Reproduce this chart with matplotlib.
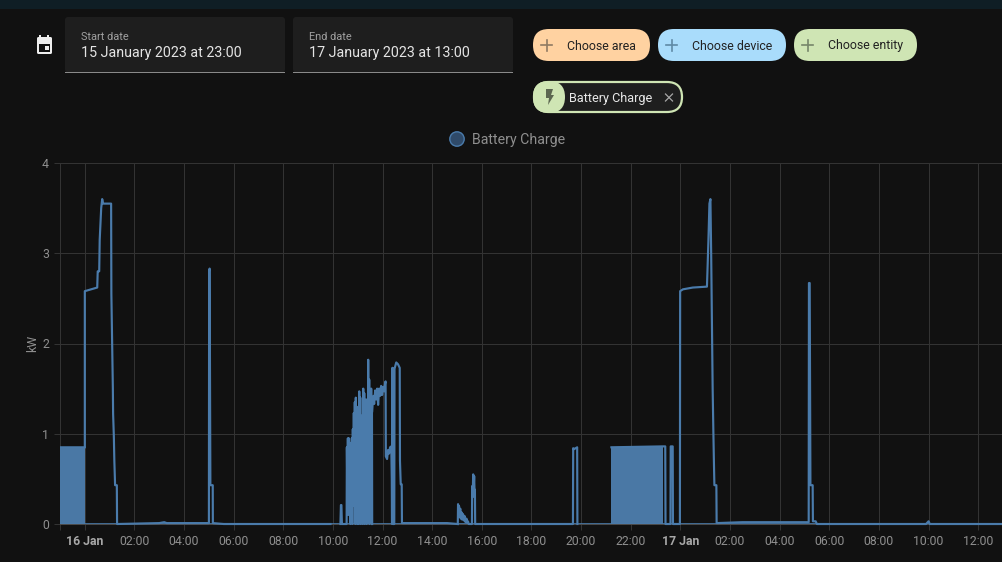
import matplotlib
matplotlib.use("Agg")
import matplotlib.pyplot as plt
from matplotlib.patches import FancyBboxPatch, Rectangle, Circle, Polygon

plt.rcParams['font.family'] = ['Roboto', 'DejaVu Sans']

# hours since 16 Jan 00:00, values in kW
night1_t = [0.0, 0.0, 0.5, 0.52, 0.58, 0.6, 0.66, 0.7, 0.74, 1.06, 1.07, 1.1, 1.13, 1.14, 1.17, 1.19, 1.22, 1.29, 1.3,
            3.0, 3.2, 3.3, 5.0, 5.01, 5.03, 5.05, 5.06, 5.155, 5.16, 5.6, 9.9]
night1_v = [0.85, 2.58, 2.62, 2.8, 2.8, 3.15, 3.5, 3.6, 3.55, 3.55, 2.55, 2.03, 1.5, 1.22, 0.97, 0.7, 0.43, 0.43, 0.0,
            0.01, 0.02, 0.01, 0.01, 2.8, 2.83, 1.2, 0.43, 0.43, 0.01, 0.0, 0.0]

cluster_t = [10.3, 10.32, 10.34, 10.36, 10.38, 10.55, 10.56, 10.58, 10.6, 10.62, 10.64, 10.66, 10.68, 10.7, 10.72,
             10.74, 10.76, 10.78, 10.8, 10.82, 10.84, 10.86, 10.88, 10.9, 10.92, 10.94, 10.96, 10.98, 11.0,
             11.02, 11.04, 11.06, 11.08, 11.1, 11.12, 11.14, 11.16, 11.18, 11.2, 11.22, 11.24, 11.26, 11.28, 11.3,
             11.32, 11.34, 11.36, 11.38, 11.4, 11.42, 11.44, 11.46, 11.47, 11.5, 11.52, 11.54, 11.56, 11.57, 11.58]
cluster_v = [0.0, 0.21, 0.21, 0.0, 0.0, 0.0, 0.85, 0.3, 0.95, 0.1, 0.95, 0.5, 0.9, 0.0, 0.85,
             0.3, 0.95, 0.0, 1.05, 0.4, 1.23, 0.2, 1.35, 0.0, 1.4, 0.2, 1.1, 0.0, 0.9,
             1.3, 0.0, 1.47, 0.3, 1.4, 0.0, 1.2, 0.2, 1.1, 0.0, 1.5, 0.4, 1.45, 0.0, 1.1,
             0.2, 1.38, 0.0, 1.3, 0.3, 1.82, 0.4, 1.6, 0.0, 1.45, 0.1, 1.5, 0.0, 1.4, 0.0]

band_t = [11.58, 11.62, 11.66, 11.7, 11.74, 11.78, 11.82, 11.86, 11.9, 11.94, 11.98, 12.02, 12.06, 12.1, 12.12, 12.13,
          12.18, 12.22, 12.26, 12.3, 12.35, 12.37, 12.38, 12.39, 12.41, 12.42, 12.47, 12.48, 12.55, 12.62, 12.69, 12.7,
          12.73, 12.77, 12.78, 13.5, 14.0, 14.6, 15.03]
band_v = [1.25, 1.42, 1.33, 1.48, 1.38, 1.5, 1.32, 1.5, 1.42, 1.53, 1.43, 1.52, 1.47, 1.56, 1.58, 0.75,
          0.72, 0.82, 0.78, 0.85, 0.86, 0.5, 0.0, 1.73, 1.73, 0.0, 0.0, 1.72, 1.79, 1.77, 1.73, 0.7,
          0.44, 0.44, 0.01, 0.01, 0.01, 0.01, 0.0]

small_t = [15.03, 15.04, 15.06, 15.08, 15.1, 15.13, 15.15, 15.18, 15.2, 15.24, 15.27, 15.3, 15.34, 15.38, 15.41, 15.44,
           15.47, 15.6, 15.61, 15.63, 15.65, 15.67, 15.69, 15.71, 15.72, 15.73, 19.67, 19.68, 19.72, 19.84, 19.85]
small_v = [0.0, 0.22, 0.1, 0.2, 0.08, 0.17, 0.06, 0.13, 0.05, 0.11, 0.04, 0.09, 0.02, 0.06, 0.01, 0.03,
           0.0, 0.0, 0.42, 0.3, 0.55, 0.4, 0.53, 0.3, 0.38, 0.0, 0.0, 0.84, 0.83, 0.85, 0.0]

night2_t = [21.22, 23.29, 23.39, 23.4, 23.6, 23.61, 23.69, 23.7, 23.98, 23.99, 24.1, 24.5, 25.07, 25.09, 25.13, 25.17,
            25.21, 25.24, 25.28, 25.3, 25.33, 25.35, 25.37, 25.45, 25.46, 26.5, 28.0, 29.17, 29.18, 29.21, 29.24,
            29.33, 29.34, 29.45, 29.5, 33.9, 34.0, 34.05, 37.0]
night2_v = [0.85, 0.86, 0.86, 0.0, 0.0, 0.86, 0.86, 0.0, 0.0, 2.58, 2.6, 2.62, 2.63, 2.8, 3.15, 3.55,
            3.6, 3.0, 2.0, 1.5, 1.0, 0.7, 0.43, 0.43, 0.01, 0.02, 0.02, 0.02, 2.67, 2.67, 0.43,
            0.43, 0.03, 0.03, 0.0, 0.0, 0.03, 0.0, 0.0]

# stretches where the line is so dense it reads as a solid block
block_start = [-1.0, 21.22]
block_end = [0.0, 23.29]
block_value = [0.85, 0.85]

hour_ticks = list(range(0, 37, 2))
hour_labels = ['16 Jan', '02:00', '04:00', '06:00', '08:00', '10:00', '12:00', '14:00', '16:00', '18:00', '20:00',
               '22:00', '17 Jan', '02:00', '04:00', '06:00', '08:00', '10:00', '12:00']
kw_ticks = [0, 1, 2, 3, 4]

BG = '#111111'
LINE = '#4a7bab'
FILL = '#4a78a5'
GRID = '#333333'
MUTED = '#8f8f8f'

W, H = 1003, 562
fig = plt.figure(figsize=(W / 100, H / 100), dpi=100, facecolor=BG)

# chart
ax = fig.add_axes([60 / W, 1 - 524 / H, 943 / W, 361 / H], facecolor=BG)
ax.set_xlim(-1, 37)
ax.set_ylim(0, 4)
ax.set_xticks([-1] + hour_ticks)
ax.set_xticklabels([''] + hour_labels)
ax.set_yticks(kw_ticks)
ax.grid(True, color=GRID, linewidth=0.72)
ax.set_axisbelow(True)
for name, sp in ax.spines.items():
    sp.set_visible(name == 'bottom')
    sp.set_color('#4a4a4a')
    sp.set_linewidth(0.72)
ax.tick_params(axis='both', length=4, width=0.72, color=GRID, labelcolor=MUTED, labelsize=8.8, pad=4)
for lab in ax.get_xticklabels():
    if 'Jan' in lab.get_text():
        lab.set_fontweight('bold')
        lab.set_color('#a8a8a8')
ax.set_ylabel('kW', color=MUTED, fontsize=8.8, labelpad=2)

for s, e, v in zip(block_start, block_end, block_value):
    ax.fill_between([s, e], [v, v], 0, color=FILL, linewidth=0, zorder=2)
ax.plot(block_start[:1] + block_end[:1], block_value[:1] * 2, color=LINE, lw=1.1, zorder=3)
for xs, ys in [(night1_t, night1_v), (cluster_t, cluster_v), (band_t, band_v), (small_t, small_v), (night2_t, night2_v)]:
    ax.plot(xs, ys, color=LINE, lw=1.55, solid_joinstyle='round', zorder=3, clip_on=False)
ax.plot([-1, 37], [0, 0], color=LINE, lw=1.2, zorder=3)

# page furniture, in pixel coordinates
ui = fig.add_axes([0, 0, 1, 1], facecolor='none')
ui.set_xlim(0, W)
ui.set_ylim(H, 0)
ui.axis('off')
ui.add_patch(Rectangle((0, 0), W, 9, color='#0f1e25', lw=0))

# calendar icon
ui.add_patch(FancyBboxPatch((37, 37), 15, 17, boxstyle='round,pad=0,rounding_size=1.5', fc='#eeeeee', ec='none'))
ui.add_patch(Rectangle((39, 43.5), 11, 8.5, fc=BG, ec='none'))
ui.add_patch(Rectangle((45, 46), 4, 4, fc='#eeeeee', ec='none'))
ui.add_patch(Rectangle((39.5, 34.5), 2, 3, fc='#eeeeee', ec='none'))
ui.add_patch(Rectangle((47.5, 34.5), 2, 3, fc='#eeeeee', ec='none'))

# date fields
for x0, label, value in [(65, 'Start date', '15 January 2023 at 23:00'), (293, 'End date', '17 January 2023 at 13:00')]:
    ui.add_patch(FancyBboxPatch((x0, 17), 220, 55.5, boxstyle='round,pad=0,rounding_size=3', fc='#1e1e1e', ec='none'))
    ui.add_patch(Rectangle((x0, 71.5), 220, 1.3, fc='#8a8a8a', ec='none'))
    ui.text(x0 + 16, 36.5, label, color='#a0a0a0', fontsize=7.9, va='center')
    ui.text(x0 + 16, 52.5, value, color='#e4e4e4', fontsize=10.3, va='center')

# pill buttons
for x0, w, col, plus, label in [(533, 117, '#ffd2a1', '#8f7a62', 'Choose area'),
                                (658, 128, '#a9dcfb', '#5f8aa5', 'Choose device'),
                                (794, 123, '#cfe5b4', '#76866a', 'Choose entity')]:
    ui.add_patch(FancyBboxPatch((x0, 29), w, 32, boxstyle='round,pad=0,rounding_size=15.9', fc=col, ec='none'))
    px = x0 + 14
    ui.plot([px - 5.5, px + 5.5], [45, 45], color=plus, lw=1.2)
    ui.plot([px, px], [39.5, 50.5], color=plus, lw=1.2)
    ui.text(x0 + 34, 46, label, color='#222222', fontsize=8.9, va='center')

# entity chip
ui.add_patch(FancyBboxPatch((534, 82), 148, 30, boxstyle='round,pad=0,rounding_size=15', fc='#1e1e1e', ec='#cfe5b4', lw=1.6))
ui.add_patch(FancyBboxPatch((533, 81), 32, 32, boxstyle='round,pad=0,rounding_size=16', fc='#cfe5b4', ec='none'))
ui.add_patch(Polygon([[546, 89], [553, 89], [551, 95], [554, 95], [548, 105], [549, 98], [546, 98]], fc='#5b6650', ec='none'))
ui.text(569, 98.5, 'Battery Charge', color='#e8e8e8', fontsize=9.05, va='center')
ui.plot([665.5, 672.5], [94, 101], color='#a8a8a8', lw=0.9)
ui.plot([665.5, 672.5], [101, 94], color='#a8a8a8', lw=0.9)

# legend
ui.add_patch(Circle((457, 139), 7.2, fc='#2f4a69', ec='#4a7bab', lw=1))
ui.text(472, 140, 'Battery Charge', color=MUTED, fontsize=10.15, va='center')

fig.savefig('out.png', dpi=100, facecolor=BG)
